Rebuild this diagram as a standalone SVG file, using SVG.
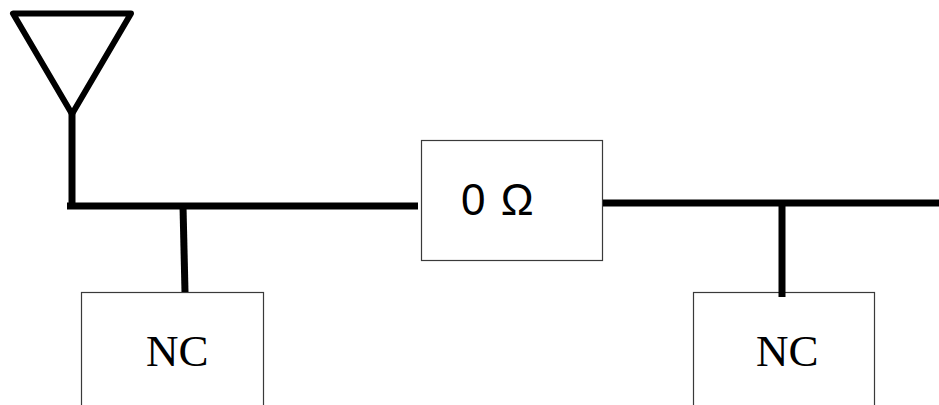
<svg xmlns="http://www.w3.org/2000/svg" width="939" height="405" viewBox="0 0 939 405">
<style>
.box{fill:#fff;stroke:#3a3a3a;stroke-width:1.200}
.wire{fill:none;stroke:#000;stroke-width:7}
.ant{fill:none;stroke:#000;stroke-width:6;stroke-linejoin:round}
.serif{font-family:"Liberation Serif","Times New Roman",serif;font-size:45px;fill:#000}
.sans{font-family:"Liberation Sans",Arial,sans-serif;font-size:44px;fill:#000;word-spacing:3px}
</style>
<rect width="939" height="405" fill="#fff"/>
<g id="resistor"><rect class="box" x="421.500" y="140.500" width="181" height="120"/><text class="sans" x="461" y="215">0 Ω</text></g>
<g id="nc-left"><rect class="box" x="81.500" y="292.500" width="182" height="120"/><text class="serif" x="146" y="366">NC</text></g>
<g id="nc-right"><rect class="box" x="693.500" y="292.500" width="181" height="120"/><text class="serif" x="756" y="366">NC</text></g>
<g id="antenna"><path class="ant" d="M13 13.500H131L72 114Z"/></g>
<g id="connectors">
<path class="wire" d="M72 113V209"/>
<path class="wire" d="M67 206H418"/>
<path class="wire" d="M183 206L185 292"/>
<path class="wire" d="M603 203H939"/>
<path class="wire" d="M782 203V297"/>
</g>
</svg>
